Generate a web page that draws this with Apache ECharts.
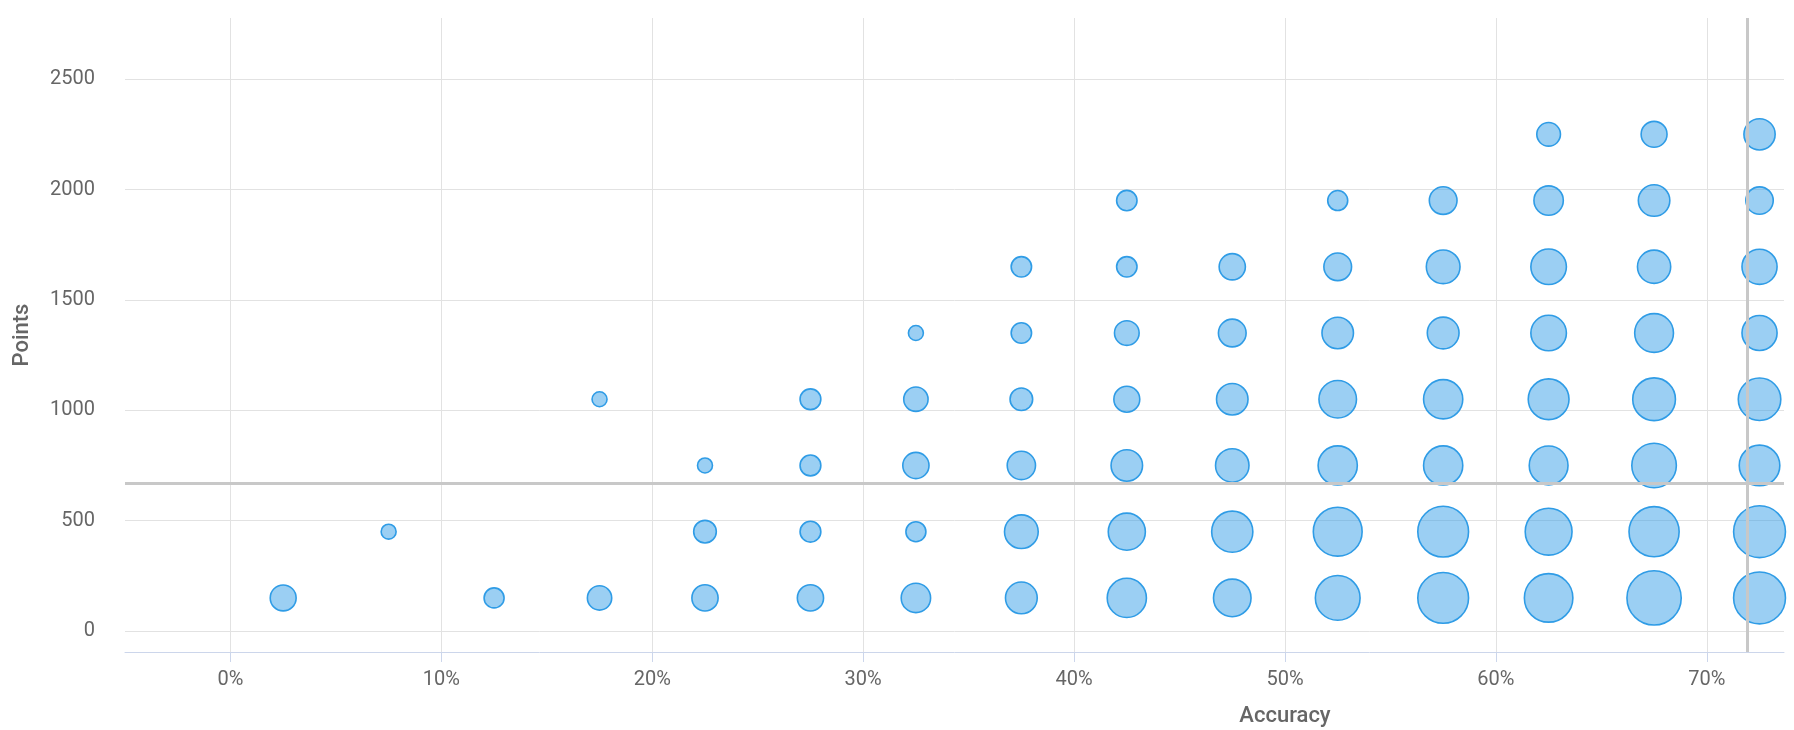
<!DOCTYPE html>
<html>
<head>
<meta charset="utf-8">
<script src="https://cdn.jsdelivr.net/npm/echarts@6/dist/echarts.min.js"></script>
<style>
  html, body { margin: 0; padding: 0; background: #ffffff; }
  #chart { width: 1794px; height: 730px; }
</style>
</head>
<body>
<div id="chart"></div>
<script>
// Accuracy bins (%, bin centres) and points bins
const accuracyBins = [2.5, 7.5, 12.5, 17.5, 22.5, 27.5, 32.5, 37.5, 42.5, 47.5, 52.5, 57.5, 62.5, 67.5, 72.5];
const pointBins = [150, 450, 750, 1050, 1350, 1650, 1950, 2250];

// counts per accuracy bin, one entry per points bin (null = no bubble)
const counts = [
  [42, null, null, null, null, null, null, null],
  [null, 14, null, null, null, null, null, null],
  [25, null, null, null, null, null, null, null],
  [37, null, null, 14, null, null, null, null],
  [43, 32, 14, null, null, null, null, null],
  [43, 27, 27, 27, null, null, null, null],
  [54, 25, 43, 37, 14, null, null, null],
  [63, 71, 50, 32, 26, 26, null, null],
  [96, 86, 62, 42, 38, 26, 26, null],
  [88, 106, 70, 62, 48, 43, null, null],
  [125, 149, 96, 88, 62, 48, 25, null],
  [161, 161, 96, 96, 63, 71, 48, null],
  [147, 137, 94, 104, 79, 79, 54, 35],
  [184, 157, 124, 114, 94, 69, 62, 42],
  [168, 168, 103, 113, 77, 77, 47, 61]
];

const averagePoints = 670;
const averageAccuracy = 71.9;

const xTicks = [0, 10, 20, 30, 40, 50, 60, 70];
const yTicks = [0, 500, 1000, 1500, 2000, 2500];

const data = [];
accuracyBins.forEach(function (acc, i) {
  pointBins.forEach(function (pts, j) {
    const c = counts[i][j];
    if (c != null) data.push([acc, pts, c]);
  });
});

const chart = echarts.init(document.getElementById('chart'), null, { renderer: 'canvas' });
const labelColor = '#666666';
chart.setOption({
  animation: false,
  backgroundColor: '#ffffff',
  textStyle: { fontFamily: 'Roboto' },
  grid: { left: 125, right: 10, top: 18, bottom: 78, containLabel: false, outerBoundsMode: 'none' },
  xAxis: {
    type: 'value',
    min: -5,
    max: 73.66,
    name: 'Accuracy',
    nameLocation: 'middle',
    nameGap: 53,
    nameTextStyle: { color: labelColor, fontSize: 22, fontWeight: 500, fontFamily: 'Roboto', padding: [0, 0, 0, 661] },
    axisLine: { show: true, onZero: false, lineStyle: { color: '#ccd6eb', width: 1 } },
    axisTick: { show: true, length: 10, customValues: xTicks, lineStyle: { color: '#ccd6eb', width: 1 } },
    axisLabel: { customValues: xTicks, formatter: function (v) { return v + '%'; }, color: labelColor, fontSize: 20, fontFamily: 'Roboto', margin: 18 },
    splitLine: { show: true, lineStyle: { color: '#e2e2e2', width: 1 } }
  },
  yAxis: {
    type: 'value',
    min: -95,
    max: 2777,
    name: 'Points',
    nameLocation: 'middle',
    nameGap: 92,
    nameTextStyle: { color: labelColor, fontSize: 22, fontWeight: 500, fontFamily: 'Roboto' },
    axisLine: { show: false },
    axisTick: { show: false, customValues: yTicks },
    axisLabel: { customValues: yTicks, formatter: function (v) { return String(v); }, color: labelColor, fontSize: 20, fontFamily: 'Roboto', margin: 30 },
    splitLine: { show: true, lineStyle: { color: '#e2e2e2', width: 1 } }
  },
  series: [
    {
      type: 'line',
      data: [],
      z: 1,
      silent: true,
      markLine: {
        silent: true,
        symbol: 'none',
        label: { show: false },
        lineStyle: { color: '#c8c8c8', width: 3, type: 'solid' },
        data: [ { yAxis: averagePoints }, { xAxis: averageAccuracy } ]
      }
    },
    {
      type: 'scatter',
      z: 2,
      clip: true,
      data: data,
      symbolSize: function (v) { return 4 * Math.sqrt(v[2]); },
      itemStyle: { color: 'rgba(43,152,230,0.47)', borderColor: '#2f9ce6', borderWidth: 1.6, opacity: 1 }
    }
  ]
});
</script>
</body>
</html>
